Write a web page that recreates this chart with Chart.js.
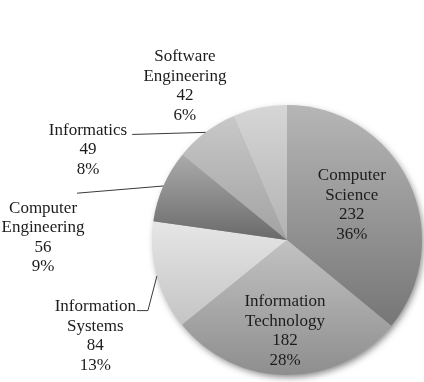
<!DOCTYPE html>
<html><head><meta charset="utf-8">
<script src="https://cdn.jsdelivr.net/npm/chart.js@4"></script>
<style>html,body{margin:0;padding:0;background:#fff;overflow:hidden}#wrap{width:424px;height:382px}</style>
</head><body><div id="wrap"><canvas id="c" width="424" height="382"></canvas></div>
<script>
// ---- data ----
const categories = [["Computer","Science"],["Information","Technology"],["Information","Systems"],["Computer","Engineering"],["Informatics"],["Software","Engineering"]];
const values = [232,182,84,56,49,42];
const percentLabels = ["36%","28%","13%","9%","8%","6%"];

// ---- styling ----
const shades = [["#b6b6b6","#767676"],["#c2c2c2","#8e8e8e"],["#e6e6e6","#c4c4c4"],["#ababab","#6a6a6a"],["#c8c8c8","#a2a2a2"],["#d6d6d6","#b2b2b2"]];
// label block centre, relative to pie centre, in units of the radius
const labelPlace = [[0.48,-0.26],[-0.015,0.674],[-1.42,0.71],[-1.807,-0.019],[-1.474,-0.667],[-0.756,-1.141]];
// leader lines: start relative to first text line (right end), optional elbow
const leaders = {2:{gap:1,dy:4,elbow:11},3:{gap:0,dy:-15,elbow:0},4:{gap:5,dy:4,elbow:0}};
const FONT = '17px "Liberation Serif", "Times New Roman", serif';
const LINE_H = 19.5;

function sliceFill(ctx){
  const chart = ctx.chart, i = ctx.dataIndex, a = chart.chartArea;
  if (!a || i === undefined) return shades[i||0][0];
  const cx=(a.left+a.right)/2, cy=(a.top+a.bottom)/2, R=Math.min(a.width,a.height)/2;
  const data = chart.data.datasets[0].data; const total = data.reduce((s,v)=>s+v,0);
  let start=0; for(let k=0;k<i;k++) start+=data[k];
  const a0=start/total*2*Math.PI, a1=(start+data[i])/total*2*Math.PI;
  const ys=[cy, cy-R*Math.cos(a0), cy-R*Math.cos(a1)];
  if (a0<=1e-9 || a1>=2*Math.PI-1e-9) ys.push(cy-R);
  if (a0<=Math.PI && a1>=Math.PI) ys.push(cy+R);
  const y0=Math.min(...ys), y1=Math.max(...ys);
  const g = chart.ctx.createLinearGradient(0,y0,0,y1);
  g.addColorStop(0,shades[i][0]); g.addColorStop(1,shades[i][1]);
  return g;
}

const shadowPlugin = {
  id:'shadow',
  beforeDatasetsDraw(chart){
    const arc = chart.getDatasetMeta(0).data[0]; if(!arc) return;
    const c = chart.ctx;
    c.save();
    c.shadowColor='rgba(0,0,0,0.5)'; c.shadowBlur=7; c.shadowOffsetX=2; c.shadowOffsetY=3;
    c.fillStyle='#999'; c.beginPath(); c.arc(arc.x,arc.y,arc.outerRadius-1,0,Math.PI*2); c.fill();
    c.restore();
  }
};

const labelPlugin = {
  id:'labels',
  afterDatasetsDraw(chart){
    const c = chart.ctx;
    const arcs = chart.getDatasetMeta(0).data;
    c.save();
    c.font = FONT; c.textAlign='center'; c.textBaseline='middle';
    arcs.forEach((arc,i)=>{
      const R = arc.outerRadius, mid=(arc.startAngle+arc.endAngle)/2;
      const lx = arc.x + labelPlace[i][0]*R, ly = arc.y + labelPlace[i][1]*R;
      const lines = [...categories[i], String(values[i]), percentLabels[i]];
      const top = ly - (lines.length-1)*LINE_H/2;
      const ld = leaders[i];
      if (ld){
        const w1 = c.measureText(lines[0]).width;
        const sx = lx + w1/2 + ld.gap, sy = top + ld.dy;
        const ex = arc.x + Math.cos(mid)*R, ey = arc.y + Math.sin(mid)*R;
        c.strokeStyle='#3a3a3a'; c.lineWidth=1;
        c.beginPath(); c.moveTo(sx,sy);
        if (ld.elbow) c.lineTo(sx+ld.elbow,sy);
        c.lineTo(ex,ey); c.stroke();
      }
      c.fillStyle='#1c1c1c';
      lines.forEach((t,k)=>c.fillText(t, lx, top + k*LINE_H));
    });
    c.restore();
  }
};

new Chart(document.getElementById('c'), {
  type:'pie',
  data:{ labels: categories, datasets:[{ data: values, backgroundColor: sliceFill, borderWidth:0 }] },
  options:{
    responsive:false, animation:false,
    layout:{ padding:{left:152,right:2,top:105,bottom:7} },
    plugins:{ legend:{display:false}, tooltip:{enabled:false} }
  },
  plugins:[shadowPlugin,labelPlugin]
});
</script>
</body></html>
